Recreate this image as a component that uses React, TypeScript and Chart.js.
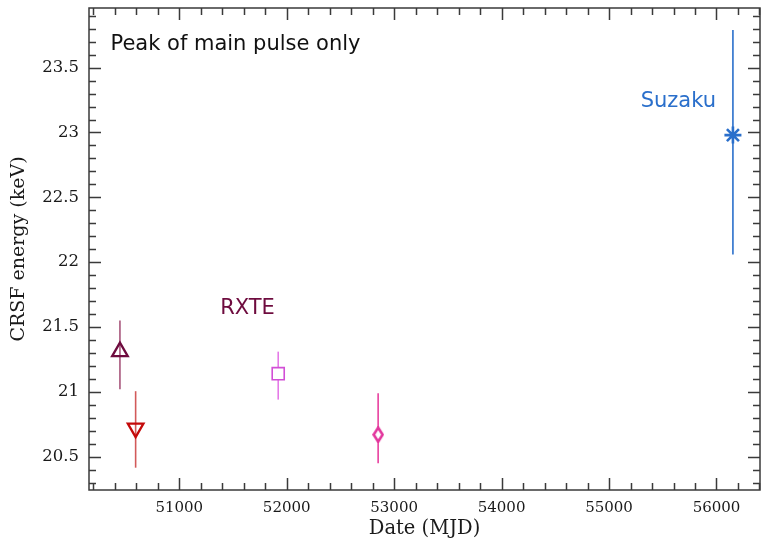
import React, { useEffect, useRef } from "react";
import { Chart, registerables } from "chart.js";

Chart.register(...registerables);

// ---- data ----
const labels = ["RXTE 1", "RXTE 2", "RXTE 3", "RXTE 4", "Suzaku"];
const mjd = [50448, 50594, 51921, 52851, 56153];
const energy = [21.31, 20.72, 21.14, 20.67, 22.98];
const errLow = [21.02, 20.415, 20.94, 20.45, 22.06];
const errHigh = [21.55, 21.005, 21.31, 20.99, 23.79];
const markerStyles = ["triangle", "triangle", "rect", "diamond", "star"];
const markerRotation = [0, 180, 0, 0, 0];
const markerColors = ["#6e0b3e", "#c40a0a", "#d24fd6", "#e2359c", "#2a6fcb"];
const barColors = ["#a8577c", "#d25a5a", "#e57ae8", "#e8409f", "#2a6fcb"];

const xMajorTicks = [51000, 52000, 53000, 54000, 55000, 56000];
const yMajorTicks = [20.5, 21, 21.5, 22, 22.5, 23, 23.5];
const xRange = [50160, 56405];
const yRange = [20.243, 23.96];

const annotations = [
  { text: "Peak of main pulse only", x: 50360, y: 23.675, color: "#111111", align: "left" },
  { text: "RXTE", x: 51635, y: 21.64, color: "#6e0b3e", align: "center" },
  { text: "Suzaku", x: 55645, y: 23.235, color: "#2a6fcb", align: "center" },
];

function makeDiamond(color: string) {
  const c = document.createElement("canvas");
  c.width = 12;
  c.height = 17;
  const g = c.getContext("2d")!;
  g.fillStyle = "#ffffff";
  g.strokeStyle = color;
  g.lineWidth = 2.6;
  g.beginPath();
  g.moveTo(6, 1.5);
  g.lineTo(10.5, 8.5);
  g.lineTo(6, 15.5);
  g.lineTo(1.5, 8.5);
  g.closePath();
  g.fill();
  g.stroke();
  return c;
}

const errorBarPlugin = {
  id: "errorBars",
  beforeDatasetsDraw(chart: any) {
    const { ctx, scales } = chart;
    const xs = scales.x;
    const ys = scales.y;
    ctx.save();
    ctx.lineWidth = 1.6;
    mjd.forEach((m, i) => {
      const px = xs.getPixelForValue(m);
      ctx.strokeStyle = barColors[i];
      ctx.beginPath();
      ctx.moveTo(px, ys.getPixelForValue(errLow[i]));
      ctx.lineTo(px, ys.getPixelForValue(errHigh[i]));
      ctx.stroke();
    });
    ctx.restore();
  },
};

const framePlugin = {
  id: "frameTicks",
  afterDatasetsDraw(chart: any) {
    const { ctx, chartArea: a, scales } = chart;
    const xs = scales.x;
    const ys = scales.y;
    ctx.save();
    ctx.strokeStyle = "#3a3a3a";
    ctx.lineWidth = 1.5;
    ctx.strokeRect(a.left, a.top, a.right - a.left, a.bottom - a.top);
    const majorLen = 12;
    const minorLen = 7;
    ctx.beginPath();
    for (let v = 50200; v <= xRange[1]; v += 200) {
      const px = Math.round(xs.getPixelForValue(v)) + 0.5;
      const len = xMajorTicks.includes(v) ? majorLen : minorLen;
      ctx.moveTo(px, a.bottom);
      ctx.lineTo(px, a.bottom - len);
      ctx.moveTo(px, a.top);
      ctx.lineTo(px, a.top + len);
    }
    for (let k = 203; k <= 239; k++) {
      const v = k / 10;
      const py = Math.round(ys.getPixelForValue(v)) + 0.5;
      const len = k % 5 === 0 ? majorLen : minorLen;
      ctx.moveTo(a.left, py);
      ctx.lineTo(a.left + len, py);
      ctx.moveTo(a.right, py);
      ctx.lineTo(a.right - len, py);
    }
    ctx.stroke();

    ctx.font = '21px "DejaVu Sans"';
    ctx.textBaseline = "middle";
    annotations.forEach((an) => {
      ctx.fillStyle = an.color;
      ctx.textAlign = an.align as CanvasTextAlign;
      ctx.fillText(an.text, xs.getPixelForValue(an.x), ys.getPixelForValue(an.y));
    });
    ctx.restore();
  },
};

export default function App() {
  const ref = useRef<HTMLCanvasElement>(null);
  useEffect(() => {
    document.body.style.margin = "0";
    const datasets = mjd.map((m, i) => ({
      label: labels[i],
      data: [{ x: m, y: energy[i] }],
      pointStyle: (markerStyles[i] === "diamond" ? makeDiamond(markerColors[i]) : markerStyles[i]) as any,
      rotation: markerRotation[i],
      radius: i === 4 ? 8.5 : i === 2 ? 8.5 : 9,
      borderColor: markerColors[i],
      backgroundColor: i === 2 ? "#ffffff" : "rgba(255,255,255,0)",
      borderWidth: i === 2 ? 1.6 : i === 4 ? 2.6 : 2.3,
      showLine: false,
    }));
    const chart = new Chart(ref.current!, {
      type: "scatter",
      data: { datasets },
      options: {
        animation: false,
        responsive: false,
        events: [],
        layout: { autoPadding: false, padding: { top: 8, right: 3, left: 0, bottom: 0 } },
        plugins: { legend: { display: false }, tooltip: { enabled: false } },
        scales: {
          x: {
            type: "linear",
            min: xRange[0],
            max: xRange[1],
            grid: { display: false, drawTicks: false },
            border: { display: false },
            afterBuildTicks: (s: any) => {
              s.ticks = xMajorTicks.map((v) => ({ value: v }));
            },
            afterFit: (s: any) => {
              s.height = 49;
              s.paddingLeft = 0;
              s.paddingRight = 0;
              s.paddingTop = 0;
              s.paddingBottom = 0;
            },
            ticks: {
              padding: 9,
              maxRotation: 0,
              autoSkip: false,
              color: "#1a1a1a",
              font: { family: "DejaVu Serif", size: 15 },
              callback: (v: any) => String(v),
            },
            title: {
              display: true,
              text: "Date (MJD)",
              color: "#1a1a1a",
              font: { family: "DejaVu Serif", size: 19.5, lineHeight: 1 },
              padding: { top: 0, bottom: 0 },
            },
          },
          y: {
            type: "linear",
            min: yRange[0],
            max: yRange[1],
            grid: { display: false, drawTicks: false },
            border: { display: false },
            afterBuildTicks: (s: any) => {
              s.ticks = yMajorTicks.map((v) => ({ value: v }));
            },
            afterFit: (s: any) => {
              s.width = 89;
              s.paddingLeft = 0;
              s.paddingRight = 0;
              s.paddingTop = 0;
              s.paddingBottom = 0;
            },
            ticks: {
              padding: 10,
              autoSkip: false,
              color: "#1a1a1a",
              font: { family: "DejaVu Serif", size: 16.5 },
              callback: (v: any) => String(v),
            },
            title: {
              display: true,
              text: "CRSF energy (keV)",
              color: "#1a1a1a",
              font: { family: "DejaVu Serif", size: 19, lineHeight: 1 },
              padding: { top: 10, bottom: 0 },
            },
          },
        },
      },
      plugins: [errorBarPlugin, framePlugin],
    });
    return () => chart.destroy();
  }, []);
  return (
    <div style={{ position: "absolute", left: 0, top: 0, width: 763, height: 539 }}>
      <canvas ref={ref} width={763} height={539} />
    </div>
  );
}
